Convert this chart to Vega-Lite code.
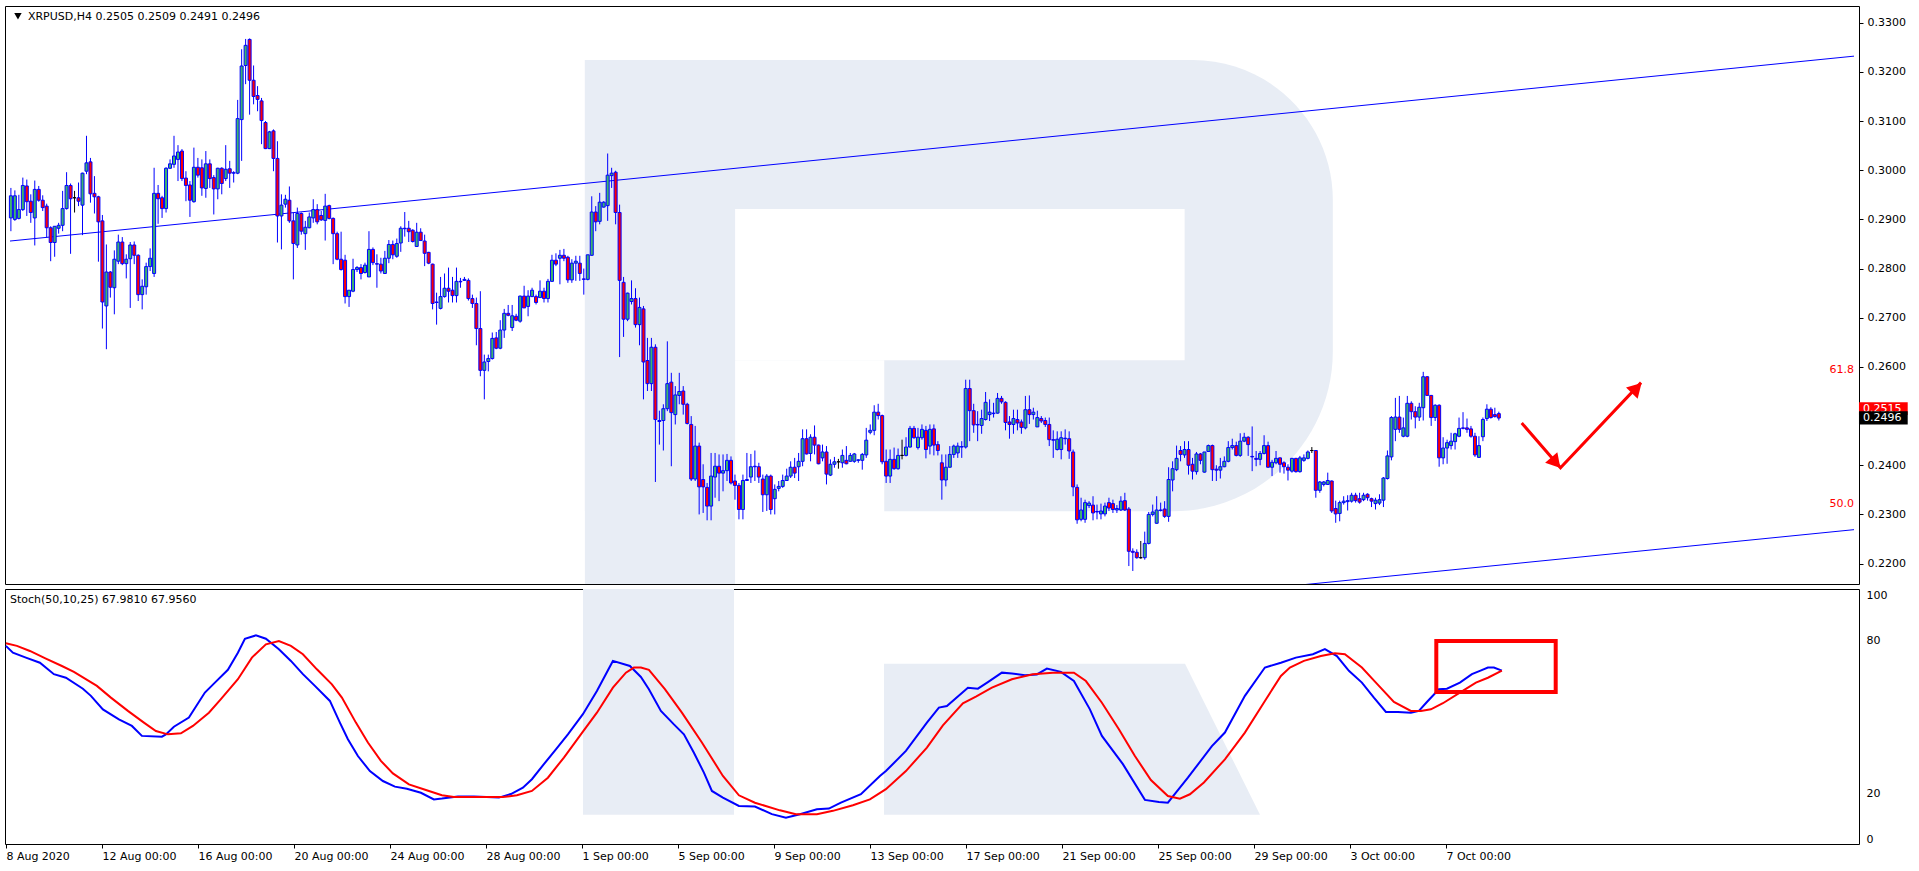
{
"$schema":"https://vega.github.io/schema/vega-lite/v6.json",
"background":"#ffffff",
"padding":{"left":4,"top":5,"right":0,"bottom":0},
"spacing":3,
"config":{"view":{"stroke":"#000000","strokeWidth":1},"font":"DejaVu Sans","axis":{"labelFont":"DejaVu Sans","labelFontSize":11,"labelColor":"#000000","tickColor":"#000000","domain":false,"grid":false,"title":null}},
"datasets":{
"candles":[
{"t":"2020-08-08T00:00Z","o":0.2903,"h":0.2964,"l":0.2876,"c":0.2948},
{"t":"2020-08-08T04:00Z","o":0.2900,"h":0.2959,"l":0.2897,"c":0.2948},
{"t":"2020-08-08T08:00Z","o":0.2902,"h":0.2950,"l":0.2900,"c":0.2920},
{"t":"2020-08-08T12:00Z","o":0.2920,"h":0.2985,"l":0.2917,"c":0.2969},
{"t":"2020-08-08T16:00Z","o":0.2968,"h":0.2981,"l":0.2907,"c":0.2936},
{"t":"2020-08-08T20:00Z","o":0.2937,"h":0.2951,"l":0.2893,"c":0.2914},
{"t":"2020-08-09T00:00Z","o":0.2903,"h":0.2979,"l":0.2847,"c":0.2961},
{"t":"2020-08-09T04:00Z","o":0.2961,"h":0.2968,"l":0.2936,"c":0.2939},
{"t":"2020-08-09T08:00Z","o":0.2939,"h":0.2949,"l":0.2917,"c":0.2924},
{"t":"2020-08-09T12:00Z","o":0.2927,"h":0.2932,"l":0.2863,"c":0.2883},
{"t":"2020-08-09T16:00Z","o":0.2883,"h":0.2886,"l":0.2815,"c":0.2853},
{"t":"2020-08-09T20:00Z","o":0.2853,"h":0.2886,"l":0.2824,"c":0.2886},
{"t":"2020-08-10T00:00Z","o":0.2882,"h":0.2893,"l":0.2871,"c":0.2888},
{"t":"2020-08-10T04:00Z","o":0.2888,"h":0.2958,"l":0.2876,"c":0.2922},
{"t":"2020-08-10T08:00Z","o":0.2922,"h":0.2996,"l":0.2920,"c":0.2969},
{"t":"2020-08-10T12:00Z","o":0.2969,"h":0.2973,"l":0.2830,"c":0.2942},
{"t":"2020-08-10T16:00Z","o":0.2944,"h":0.2958,"l":0.2914,"c":0.2944},
{"t":"2020-08-10T20:00Z","o":0.2944,"h":0.2975,"l":0.2927,"c":0.2937},
{"t":"2020-08-11T00:00Z","o":0.2929,"h":0.2995,"l":0.2868,"c":0.2994},
{"t":"2020-08-11T04:00Z","o":0.2998,"h":0.3070,"l":0.2992,"c":0.3015},
{"t":"2020-08-11T08:00Z","o":0.3017,"h":0.3025,"l":0.2934,"c":0.2952},
{"t":"2020-08-11T12:00Z","o":0.2953,"h":0.2988,"l":0.2912,"c":0.2946},
{"t":"2020-08-11T16:00Z","o":0.2946,"h":0.2948,"l":0.2814,"c":0.2895},
{"t":"2020-08-11T20:00Z","o":0.2897,"h":0.2909,"l":0.2678,"c":0.2732},
{"t":"2020-08-12T00:00Z","o":0.2724,"h":0.2849,"l":0.2636,"c":0.2793},
{"t":"2020-08-12T04:00Z","o":0.2793,"h":0.2795,"l":0.2741,"c":0.2762},
{"t":"2020-08-12T08:00Z","o":0.2761,"h":0.2837,"l":0.2707,"c":0.2819},
{"t":"2020-08-12T12:00Z","o":0.2815,"h":0.2869,"l":0.2809,"c":0.2854},
{"t":"2020-08-12T16:00Z","o":0.2854,"h":0.2864,"l":0.2807,"c":0.2810},
{"t":"2020-08-12T20:00Z","o":0.2810,"h":0.2829,"l":0.2780,"c":0.2819},
{"t":"2020-08-13T00:00Z","o":0.2820,"h":0.2854,"l":0.2720,"c":0.2848},
{"t":"2020-08-13T04:00Z","o":0.2848,"h":0.2855,"l":0.2809,"c":0.2827},
{"t":"2020-08-13T08:00Z","o":0.2827,"h":0.2829,"l":0.2734,"c":0.2747},
{"t":"2020-08-13T12:00Z","o":0.2747,"h":0.2778,"l":0.2717,"c":0.2764},
{"t":"2020-08-13T16:00Z","o":0.2763,"h":0.2812,"l":0.2747,"c":0.2804},
{"t":"2020-08-13T20:00Z","o":0.2804,"h":0.2841,"l":0.2795,"c":0.2821},
{"t":"2020-08-14T00:00Z","o":0.2790,"h":0.3005,"l":0.2783,"c":0.2953},
{"t":"2020-08-14T04:00Z","o":0.2953,"h":0.2970,"l":0.2891,"c":0.2942},
{"t":"2020-08-14T08:00Z","o":0.2944,"h":0.2948,"l":0.2903,"c":0.2922},
{"t":"2020-08-14T12:00Z","o":0.2922,"h":0.3006,"l":0.2914,"c":0.3004},
{"t":"2020-08-14T16:00Z","o":0.3004,"h":0.3022,"l":0.3003,"c":0.3013},
{"t":"2020-08-14T20:00Z","o":0.3012,"h":0.3070,"l":0.3005,"c":0.3029},
{"t":"2020-08-15T00:00Z","o":0.3022,"h":0.3051,"l":0.2978,"c":0.3037},
{"t":"2020-08-15T04:00Z","o":0.3039,"h":0.3043,"l":0.2978,"c":0.2983},
{"t":"2020-08-15T08:00Z","o":0.2984,"h":0.2998,"l":0.2937,"c":0.2969},
{"t":"2020-08-15T12:00Z","o":0.2970,"h":0.2978,"l":0.2905,"c":0.2939},
{"t":"2020-08-15T16:00Z","o":0.2936,"h":0.3046,"l":0.2934,"c":0.3006},
{"t":"2020-08-15T20:00Z","o":0.3006,"h":0.3025,"l":0.2985,"c":0.2990},
{"t":"2020-08-16T00:00Z","o":0.3005,"h":0.3022,"l":0.2948,"c":0.2964},
{"t":"2020-08-16T04:00Z","o":0.2963,"h":0.3039,"l":0.2944,"c":0.3013},
{"t":"2020-08-16T08:00Z","o":0.3013,"h":0.3022,"l":0.2964,"c":0.2983},
{"t":"2020-08-16T12:00Z","o":0.2985,"h":0.2990,"l":0.2910,"c":0.2962},
{"t":"2020-08-16T16:00Z","o":0.2962,"h":0.3005,"l":0.2941,"c":0.3004},
{"t":"2020-08-16T20:00Z","o":0.3004,"h":0.3006,"l":0.2951,"c":0.2973},
{"t":"2020-08-17T00:00Z","o":0.2983,"h":0.3051,"l":0.2978,"c":0.3002},
{"t":"2020-08-17T04:00Z","o":0.3003,"h":0.3019,"l":0.2964,"c":0.2994},
{"t":"2020-08-17T08:00Z","o":0.2994,"h":0.2998,"l":0.2975,"c":0.2995},
{"t":"2020-08-17T12:00Z","o":0.2994,"h":0.3143,"l":0.2992,"c":0.3105},
{"t":"2020-08-17T16:00Z","o":0.3103,"h":0.3246,"l":0.3019,"c":0.3212},
{"t":"2020-08-17T20:00Z","o":0.3213,"h":0.3267,"l":0.3175,"c":0.3254},
{"t":"2020-08-18T00:00Z","o":0.3266,"h":0.3268,"l":0.3113,"c":0.3183},
{"t":"2020-08-18T04:00Z","o":0.3183,"h":0.3213,"l":0.3134,"c":0.3150},
{"t":"2020-08-18T08:00Z","o":0.3152,"h":0.3171,"l":0.3120,"c":0.3144},
{"t":"2020-08-18T12:00Z","o":0.3141,"h":0.3147,"l":0.3053,"c":0.3101},
{"t":"2020-08-18T16:00Z","o":0.3097,"h":0.3100,"l":0.3043,"c":0.3044},
{"t":"2020-08-18T20:00Z","o":0.3044,"h":0.3080,"l":0.3043,"c":0.3078},
{"t":"2020-08-19T00:00Z","o":0.3080,"h":0.3083,"l":0.2998,"c":0.3024},
{"t":"2020-08-19T04:00Z","o":0.3024,"h":0.3059,"l":0.2853,"c":0.2907},
{"t":"2020-08-19T08:00Z","o":0.2907,"h":0.2951,"l":0.2839,"c":0.2929},
{"t":"2020-08-19T12:00Z","o":0.2931,"h":0.2950,"l":0.2924,"c":0.2941},
{"t":"2020-08-19T16:00Z","o":0.2939,"h":0.2967,"l":0.2893,"c":0.2897},
{"t":"2020-08-19T20:00Z","o":0.2897,"h":0.2914,"l":0.2778,"c":0.2851},
{"t":"2020-08-20T00:00Z","o":0.2848,"h":0.2924,"l":0.2842,"c":0.2912},
{"t":"2020-08-20T04:00Z","o":0.2912,"h":0.2914,"l":0.2869,"c":0.2876},
{"t":"2020-08-20T08:00Z","o":0.2871,"h":0.2897,"l":0.2838,"c":0.2884},
{"t":"2020-08-20T12:00Z","o":0.2883,"h":0.2914,"l":0.2882,"c":0.2905},
{"t":"2020-08-20T16:00Z","o":0.2903,"h":0.2941,"l":0.2893,"c":0.2920},
{"t":"2020-08-20T20:00Z","o":0.2920,"h":0.2931,"l":0.2890,"c":0.2895},
{"t":"2020-08-21T00:00Z","o":0.2908,"h":0.2917,"l":0.2897,"c":0.2899},
{"t":"2020-08-21T04:00Z","o":0.2898,"h":0.2952,"l":0.2857,"c":0.2927},
{"t":"2020-08-21T08:00Z","o":0.2928,"h":0.2930,"l":0.2900,"c":0.2902},
{"t":"2020-08-21T12:00Z","o":0.2902,"h":0.2904,"l":0.2809,"c":0.2871},
{"t":"2020-08-21T16:00Z","o":0.2871,"h":0.2875,"l":0.2817,"c":0.2819},
{"t":"2020-08-21T20:00Z","o":0.2819,"h":0.2875,"l":0.2796,"c":0.2798},
{"t":"2020-08-22T00:00Z","o":0.2817,"h":0.2828,"l":0.2729,"c":0.2743},
{"t":"2020-08-22T04:00Z","o":0.2743,"h":0.2756,"l":0.2722,"c":0.2756},
{"t":"2020-08-22T08:00Z","o":0.2754,"h":0.2820,"l":0.2752,"c":0.2798},
{"t":"2020-08-22T12:00Z","o":0.2798,"h":0.2805,"l":0.2793,"c":0.2802},
{"t":"2020-08-22T16:00Z","o":0.2802,"h":0.2809,"l":0.2778,"c":0.2790},
{"t":"2020-08-22T20:00Z","o":0.2792,"h":0.2812,"l":0.2790,"c":0.2807},
{"t":"2020-08-23T00:00Z","o":0.2783,"h":0.2876,"l":0.2783,"c":0.2839},
{"t":"2020-08-23T04:00Z","o":0.2839,"h":0.2843,"l":0.2807,"c":0.2812},
{"t":"2020-08-23T08:00Z","o":0.2810,"h":0.2829,"l":0.2761,"c":0.2809},
{"t":"2020-08-23T12:00Z","o":0.2809,"h":0.2822,"l":0.2790,"c":0.2795},
{"t":"2020-08-23T16:00Z","o":0.2790,"h":0.2836,"l":0.2790,"c":0.2821},
{"t":"2020-08-23T20:00Z","o":0.2821,"h":0.2858,"l":0.2811,"c":0.2849},
{"t":"2020-08-24T00:00Z","o":0.2849,"h":0.2857,"l":0.2819,"c":0.2828},
{"t":"2020-08-24T04:00Z","o":0.2825,"h":0.2861,"l":0.2822,"c":0.2851},
{"t":"2020-08-24T08:00Z","o":0.2852,"h":0.2886,"l":0.2834,"c":0.2882},
{"t":"2020-08-24T12:00Z","o":0.2881,"h":0.2915,"l":0.2865,"c":0.2882},
{"t":"2020-08-24T16:00Z","o":0.2882,"h":0.2897,"l":0.2854,"c":0.2875},
{"t":"2020-08-24T20:00Z","o":0.2878,"h":0.2880,"l":0.2853,"c":0.2855},
{"t":"2020-08-25T00:00Z","o":0.2845,"h":0.2893,"l":0.2844,"c":0.2874},
{"t":"2020-08-25T04:00Z","o":0.2874,"h":0.2882,"l":0.2856,"c":0.2857},
{"t":"2020-08-25T08:00Z","o":0.2856,"h":0.2869,"l":0.2805,"c":0.2831},
{"t":"2020-08-25T12:00Z","o":0.2833,"h":0.2834,"l":0.2809,"c":0.2811},
{"t":"2020-08-25T16:00Z","o":0.2809,"h":0.2810,"l":0.2717,"c":0.2729},
{"t":"2020-08-25T20:00Z","o":0.2732,"h":0.2751,"l":0.2686,"c":0.2731},
{"t":"2020-08-26T00:00Z","o":0.2719,"h":0.2783,"l":0.2717,"c":0.2743},
{"t":"2020-08-26T04:00Z","o":0.2743,"h":0.2790,"l":0.2741,"c":0.2760},
{"t":"2020-08-26T08:00Z","o":0.2760,"h":0.2802,"l":0.2731,"c":0.2754},
{"t":"2020-08-26T12:00Z","o":0.2756,"h":0.2783,"l":0.2731,"c":0.2745},
{"t":"2020-08-26T16:00Z","o":0.2745,"h":0.2802,"l":0.2731,"c":0.2774},
{"t":"2020-08-26T20:00Z","o":0.2774,"h":0.2781,"l":0.2761,"c":0.2773},
{"t":"2020-08-27T00:00Z","o":0.2776,"h":0.2783,"l":0.2775,"c":0.2778},
{"t":"2020-08-27T04:00Z","o":0.2776,"h":0.2780,"l":0.2735,"c":0.2739},
{"t":"2020-08-27T08:00Z","o":0.2739,"h":0.2747,"l":0.2720,"c":0.2729},
{"t":"2020-08-27T12:00Z","o":0.2729,"h":0.2741,"l":0.2644,"c":0.2678},
{"t":"2020-08-27T16:00Z","o":0.2678,"h":0.2754,"l":0.2581,"c":0.2593},
{"t":"2020-08-27T20:00Z","o":0.2593,"h":0.2625,"l":0.2534,"c":0.2610},
{"t":"2020-08-28T00:00Z","o":0.2611,"h":0.2625,"l":0.2591,"c":0.2617},
{"t":"2020-08-28T04:00Z","o":0.2617,"h":0.2670,"l":0.2615,"c":0.2658},
{"t":"2020-08-28T08:00Z","o":0.2659,"h":0.2671,"l":0.2636,"c":0.2638},
{"t":"2020-08-28T12:00Z","o":0.2638,"h":0.2695,"l":0.2636,"c":0.2675},
{"t":"2020-08-28T16:00Z","o":0.2675,"h":0.2718,"l":0.2659,"c":0.2709},
{"t":"2020-08-28T20:00Z","o":0.2709,"h":0.2726,"l":0.2703,"c":0.2705},
{"t":"2020-08-29T00:00Z","o":0.2680,"h":0.2726,"l":0.2673,"c":0.2704},
{"t":"2020-08-29T04:00Z","o":0.2703,"h":0.2708,"l":0.2693,"c":0.2695},
{"t":"2020-08-29T08:00Z","o":0.2693,"h":0.2745,"l":0.2690,"c":0.2744},
{"t":"2020-08-29T12:00Z","o":0.2744,"h":0.2765,"l":0.2720,"c":0.2720},
{"t":"2020-08-29T16:00Z","o":0.2723,"h":0.2756,"l":0.2703,"c":0.2744},
{"t":"2020-08-29T20:00Z","o":0.2743,"h":0.2761,"l":0.2742,"c":0.2756},
{"t":"2020-08-30T00:00Z","o":0.2743,"h":0.2747,"l":0.2727,"c":0.2731},
{"t":"2020-08-30T04:00Z","o":0.2741,"h":0.2776,"l":0.2741,"c":0.2754},
{"t":"2020-08-30T08:00Z","o":0.2754,"h":0.2761,"l":0.2731,"c":0.2739},
{"t":"2020-08-30T12:00Z","o":0.2739,"h":0.2779,"l":0.2731,"c":0.2774},
{"t":"2020-08-30T16:00Z","o":0.2774,"h":0.2828,"l":0.2773,"c":0.2817},
{"t":"2020-08-30T20:00Z","o":0.2817,"h":0.2831,"l":0.2805,"c":0.2809},
{"t":"2020-08-31T00:00Z","o":0.2821,"h":0.2838,"l":0.2768,"c":0.2827},
{"t":"2020-08-31T04:00Z","o":0.2827,"h":0.2840,"l":0.2815,"c":0.2821},
{"t":"2020-08-31T08:00Z","o":0.2823,"h":0.2826,"l":0.2771,"c":0.2777},
{"t":"2020-08-31T12:00Z","o":0.2777,"h":0.2819,"l":0.2771,"c":0.2811},
{"t":"2020-08-31T16:00Z","o":0.2811,"h":0.2826,"l":0.2775,"c":0.2815},
{"t":"2020-08-31T20:00Z","o":0.2811,"h":0.2826,"l":0.2775,"c":0.2790},
{"t":"2020-09-01T00:00Z","o":0.2779,"h":0.2800,"l":0.2747,"c":0.2778},
{"t":"2020-09-01T04:00Z","o":0.2778,"h":0.2828,"l":0.2776,"c":0.2828},
{"t":"2020-09-01T08:00Z","o":0.2827,"h":0.2947,"l":0.2826,"c":0.2915},
{"t":"2020-09-01T12:00Z","o":0.2915,"h":0.2927,"l":0.2876,"c":0.2895},
{"t":"2020-09-01T16:00Z","o":0.2896,"h":0.2954,"l":0.2890,"c":0.2935},
{"t":"2020-09-01T20:00Z","o":0.2925,"h":0.2937,"l":0.2924,"c":0.2935},
{"t":"2020-09-02T00:00Z","o":0.2928,"h":0.3034,"l":0.2897,"c":0.2990},
{"t":"2020-09-02T04:00Z","o":0.2989,"h":0.3005,"l":0.2964,"c":0.2994},
{"t":"2020-09-02T08:00Z","o":0.2996,"h":0.2999,"l":0.2890,"c":0.2914},
{"t":"2020-09-02T12:00Z","o":0.2914,"h":0.2930,"l":0.2620,"c":0.2776},
{"t":"2020-09-02T16:00Z","o":0.2772,"h":0.2783,"l":0.2661,"c":0.2697},
{"t":"2020-09-02T20:00Z","o":0.2697,"h":0.2751,"l":0.2693,"c":0.2750},
{"t":"2020-09-03T00:00Z","o":0.2733,"h":0.2776,"l":0.2727,"c":0.2739},
{"t":"2020-09-03T04:00Z","o":0.2739,"h":0.2760,"l":0.2680,"c":0.2686},
{"t":"2020-09-03T08:00Z","o":0.2686,"h":0.2741,"l":0.2644,"c":0.2721},
{"t":"2020-09-03T12:00Z","o":0.2718,"h":0.2724,"l":0.2534,"c":0.2610},
{"t":"2020-09-03T16:00Z","o":0.2613,"h":0.2659,"l":0.2551,"c":0.2566},
{"t":"2020-09-03T20:00Z","o":0.2566,"h":0.2659,"l":0.2551,"c":0.2640},
{"t":"2020-09-04T00:00Z","o":0.2640,"h":0.2646,"l":0.2366,"c":0.2493},
{"t":"2020-09-04T04:00Z","o":0.2491,"h":0.2511,"l":0.2442,"c":0.2489},
{"t":"2020-09-04T08:00Z","o":0.2491,"h":0.2524,"l":0.2430,"c":0.2515},
{"t":"2020-09-04T12:00Z","o":0.2515,"h":0.2652,"l":0.2510,"c":0.2566},
{"t":"2020-09-04T16:00Z","o":0.2569,"h":0.2588,"l":0.2398,"c":0.2507},
{"t":"2020-09-04T20:00Z","o":0.2503,"h":0.2561,"l":0.2483,"c":0.2543},
{"t":"2020-09-05T00:00Z","o":0.2542,"h":0.2588,"l":0.2524,"c":0.2550},
{"t":"2020-09-05T04:00Z","o":0.2551,"h":0.2561,"l":0.2503,"c":0.2524},
{"t":"2020-09-05T08:00Z","o":0.2524,"h":0.2527,"l":0.2483,"c":0.2485},
{"t":"2020-09-05T12:00Z","o":0.2483,"h":0.2500,"l":0.2368,"c":0.2372},
{"t":"2020-09-05T16:00Z","o":0.2372,"h":0.2480,"l":0.2368,"c":0.2439},
{"t":"2020-09-05T20:00Z","o":0.2439,"h":0.2446,"l":0.2300,"c":0.2356},
{"t":"2020-09-06T00:00Z","o":0.2371,"h":0.2402,"l":0.2303,"c":0.2356},
{"t":"2020-09-06T04:00Z","o":0.2355,"h":0.2364,"l":0.2288,"c":0.2317},
{"t":"2020-09-06T08:00Z","o":0.2317,"h":0.2425,"l":0.2288,"c":0.2378},
{"t":"2020-09-06T12:00Z","o":0.2376,"h":0.2425,"l":0.2334,"c":0.2398},
{"t":"2020-09-06T16:00Z","o":0.2398,"h":0.2422,"l":0.2327,"c":0.2384},
{"t":"2020-09-06T20:00Z","o":0.2384,"h":0.2422,"l":0.2347,"c":0.2389},
{"t":"2020-09-07T00:00Z","o":0.2389,"h":0.2423,"l":0.2368,"c":0.2410},
{"t":"2020-09-07T04:00Z","o":0.2410,"h":0.2418,"l":0.2361,"c":0.2364},
{"t":"2020-09-07T08:00Z","o":0.2368,"h":0.2381,"l":0.2330,"c":0.2359},
{"t":"2020-09-07T12:00Z","o":0.2359,"h":0.2364,"l":0.2290,"c":0.2310},
{"t":"2020-09-07T16:00Z","o":0.2310,"h":0.2381,"l":0.2290,"c":0.2369},
{"t":"2020-09-07T20:00Z","o":0.2369,"h":0.2425,"l":0.2368,"c":0.2371},
{"t":"2020-09-08T00:00Z","o":0.2376,"h":0.2423,"l":0.2364,"c":0.2397},
{"t":"2020-09-08T04:00Z","o":0.2397,"h":0.2430,"l":0.2368,"c":0.2398},
{"t":"2020-09-08T08:00Z","o":0.2397,"h":0.2405,"l":0.2364,"c":0.2376},
{"t":"2020-09-08T12:00Z","o":0.2372,"h":0.2381,"l":0.2305,"c":0.2340},
{"t":"2020-09-08T16:00Z","o":0.2340,"h":0.2382,"l":0.2307,"c":0.2378},
{"t":"2020-09-08T20:00Z","o":0.2378,"h":0.2381,"l":0.2300,"c":0.2310},
{"t":"2020-09-09T00:00Z","o":0.2332,"h":0.2361,"l":0.2300,"c":0.2351},
{"t":"2020-09-09T04:00Z","o":0.2353,"h":0.2368,"l":0.2347,"c":0.2357},
{"t":"2020-09-09T08:00Z","o":0.2357,"h":0.2381,"l":0.2354,"c":0.2369},
{"t":"2020-09-09T12:00Z","o":0.2369,"h":0.2393,"l":0.2368,"c":0.2378},
{"t":"2020-09-09T16:00Z","o":0.2378,"h":0.2408,"l":0.2374,"c":0.2396},
{"t":"2020-09-09T20:00Z","o":0.2396,"h":0.2415,"l":0.2374,"c":0.2384},
{"t":"2020-09-10T00:00Z","o":0.2397,"h":0.2425,"l":0.2368,"c":0.2408},
{"t":"2020-09-10T04:00Z","o":0.2408,"h":0.2473,"l":0.2398,"c":0.2454},
{"t":"2020-09-10T08:00Z","o":0.2454,"h":0.2473,"l":0.2422,"c":0.2423},
{"t":"2020-09-10T12:00Z","o":0.2424,"h":0.2463,"l":0.2408,"c":0.2457},
{"t":"2020-09-10T16:00Z","o":0.2457,"h":0.2481,"l":0.2422,"c":0.2441},
{"t":"2020-09-10T20:00Z","o":0.2441,"h":0.2442,"l":0.2402,"c":0.2403},
{"t":"2020-09-11T00:00Z","o":0.2415,"h":0.2442,"l":0.2408,"c":0.2427},
{"t":"2020-09-11T04:00Z","o":0.2427,"h":0.2439,"l":0.2361,"c":0.2382},
{"t":"2020-09-11T08:00Z","o":0.2380,"h":0.2412,"l":0.2378,"c":0.2402},
{"t":"2020-09-11T12:00Z","o":0.2402,"h":0.2417,"l":0.2395,"c":0.2407},
{"t":"2020-09-11T16:00Z","o":0.2407,"h":0.2413,"l":0.2393,"c":0.2407},
{"t":"2020-09-11T20:00Z","o":0.2405,"h":0.2432,"l":0.2395,"c":0.2420},
{"t":"2020-09-12T00:00Z","o":0.2410,"h":0.2439,"l":0.2402,"c":0.2403},
{"t":"2020-09-12T04:00Z","o":0.2408,"h":0.2425,"l":0.2407,"c":0.2420},
{"t":"2020-09-12T08:00Z","o":0.2408,"h":0.2425,"l":0.2405,"c":0.2423},
{"t":"2020-09-12T12:00Z","o":0.2410,"h":0.2412,"l":0.2405,"c":0.2411},
{"t":"2020-09-12T16:00Z","o":0.2410,"h":0.2425,"l":0.2391,"c":0.2422},
{"t":"2020-09-12T20:00Z","o":0.2421,"h":0.2476,"l":0.2415,"c":0.2451},
{"t":"2020-09-13T00:00Z","o":0.2467,"h":0.2483,"l":0.2463,"c":0.2471},
{"t":"2020-09-13T04:00Z","o":0.2471,"h":0.2522,"l":0.2461,"c":0.2508},
{"t":"2020-09-13T08:00Z","o":0.2508,"h":0.2525,"l":0.2493,"c":0.2501},
{"t":"2020-09-13T12:00Z","o":0.2501,"h":0.2503,"l":0.2402,"c":0.2407},
{"t":"2020-09-13T16:00Z","o":0.2408,"h":0.2432,"l":0.2364,"c":0.2378},
{"t":"2020-09-13T20:00Z","o":0.2378,"h":0.2432,"l":0.2364,"c":0.2412},
{"t":"2020-09-14T00:00Z","o":0.2412,"h":0.2436,"l":0.2391,"c":0.2393},
{"t":"2020-09-14T04:00Z","o":0.2393,"h":0.2434,"l":0.2391,"c":0.2420},
{"t":"2020-09-14T08:00Z","o":0.2420,"h":0.2452,"l":0.2412,"c":0.2420},
{"t":"2020-09-14T12:00Z","o":0.2420,"h":0.2457,"l":0.2418,"c":0.2437},
{"t":"2020-09-14T16:00Z","o":0.2437,"h":0.2480,"l":0.2436,"c":0.2475},
{"t":"2020-09-14T20:00Z","o":0.2475,"h":0.2480,"l":0.2454,"c":0.2456},
{"t":"2020-09-15T00:00Z","o":0.2436,"h":0.2476,"l":0.2432,"c":0.2457},
{"t":"2020-09-15T04:00Z","o":0.2456,"h":0.2483,"l":0.2452,"c":0.2473},
{"t":"2020-09-15T08:00Z","o":0.2471,"h":0.2480,"l":0.2414,"c":0.2432},
{"t":"2020-09-15T12:00Z","o":0.2439,"h":0.2483,"l":0.2422,"c":0.2473},
{"t":"2020-09-15T16:00Z","o":0.2474,"h":0.2483,"l":0.2420,"c":0.2441},
{"t":"2020-09-15T20:00Z","o":0.2442,"h":0.2449,"l":0.2420,"c":0.2430},
{"t":"2020-09-16T00:00Z","o":0.2405,"h":0.2422,"l":0.2330,"c":0.2370},
{"t":"2020-09-16T04:00Z","o":0.2370,"h":0.2422,"l":0.2357,"c":0.2396},
{"t":"2020-09-16T08:00Z","o":0.2396,"h":0.2439,"l":0.2395,"c":0.2422},
{"t":"2020-09-16T12:00Z","o":0.2422,"h":0.2442,"l":0.2415,"c":0.2439},
{"t":"2020-09-16T16:00Z","o":0.2425,"h":0.2446,"l":0.2415,"c":0.2439},
{"t":"2020-09-16T20:00Z","o":0.2437,"h":0.2449,"l":0.2415,"c":0.2438},
{"t":"2020-09-17T00:00Z","o":0.2437,"h":0.2574,"l":0.2434,"c":0.2556},
{"t":"2020-09-17T04:00Z","o":0.2556,"h":0.2574,"l":0.2449,"c":0.2511},
{"t":"2020-09-17T08:00Z","o":0.2511,"h":0.2525,"l":0.2466,"c":0.2482},
{"t":"2020-09-17T12:00Z","o":0.2483,"h":0.2510,"l":0.2449,"c":0.2482},
{"t":"2020-09-17T16:00Z","o":0.2481,"h":0.2513,"l":0.2464,"c":0.2495},
{"t":"2020-09-17T20:00Z","o":0.2493,"h":0.2549,"l":0.2491,"c":0.2528},
{"t":"2020-09-18T00:00Z","o":0.2503,"h":0.2534,"l":0.2490,"c":0.2508},
{"t":"2020-09-18T04:00Z","o":0.2505,"h":0.2527,"l":0.2497,"c":0.2506},
{"t":"2020-09-18T08:00Z","o":0.2506,"h":0.2547,"l":0.2505,"c":0.2536},
{"t":"2020-09-18T12:00Z","o":0.2536,"h":0.2541,"l":0.2525,"c":0.2529},
{"t":"2020-09-18T16:00Z","o":0.2528,"h":0.2530,"l":0.2471,"c":0.2487},
{"t":"2020-09-18T20:00Z","o":0.2488,"h":0.2500,"l":0.2454,"c":0.2483},
{"t":"2020-09-19T00:00Z","o":0.2483,"h":0.2513,"l":0.2464,"c":0.2495},
{"t":"2020-09-19T04:00Z","o":0.2493,"h":0.2513,"l":0.2471,"c":0.2486},
{"t":"2020-09-19T08:00Z","o":0.2488,"h":0.2493,"l":0.2464,"c":0.2477},
{"t":"2020-09-19T12:00Z","o":0.2476,"h":0.2541,"l":0.2473,"c":0.2513},
{"t":"2020-09-19T16:00Z","o":0.2513,"h":0.2542,"l":0.2484,"c":0.2503},
{"t":"2020-09-19T20:00Z","o":0.2503,"h":0.2517,"l":0.2493,"c":0.2508},
{"t":"2020-09-20T00:00Z","o":0.2478,"h":0.2511,"l":0.2478,"c":0.2497},
{"t":"2020-09-20T04:00Z","o":0.2495,"h":0.2500,"l":0.2486,"c":0.2490},
{"t":"2020-09-20T08:00Z","o":0.2491,"h":0.2497,"l":0.2478,"c":0.2483},
{"t":"2020-09-20T12:00Z","o":0.2483,"h":0.2497,"l":0.2439,"c":0.2452},
{"t":"2020-09-20T16:00Z","o":0.2452,"h":0.2471,"l":0.2415,"c":0.2451},
{"t":"2020-09-20T20:00Z","o":0.2432,"h":0.2469,"l":0.2430,"c":0.2453},
{"t":"2020-09-21T00:00Z","o":0.2432,"h":0.2469,"l":0.2412,"c":0.2456},
{"t":"2020-09-21T04:00Z","o":0.2454,"h":0.2473,"l":0.2442,"c":0.2455},
{"t":"2020-09-21T08:00Z","o":0.2454,"h":0.2469,"l":0.2413,"c":0.2429},
{"t":"2020-09-21T12:00Z","o":0.2427,"h":0.2432,"l":0.2337,"c":0.2356},
{"t":"2020-09-21T16:00Z","o":0.2355,"h":0.2361,"l":0.2281,"c":0.2289},
{"t":"2020-09-21T20:00Z","o":0.2290,"h":0.2334,"l":0.2286,"c":0.2309},
{"t":"2020-09-22T00:00Z","o":0.2290,"h":0.2330,"l":0.2283,"c":0.2324},
{"t":"2020-09-22T04:00Z","o":0.2318,"h":0.2327,"l":0.2313,"c":0.2323},
{"t":"2020-09-22T08:00Z","o":0.2319,"h":0.2337,"l":0.2288,"c":0.2303},
{"t":"2020-09-22T12:00Z","o":0.2306,"h":0.2320,"l":0.2290,"c":0.2305},
{"t":"2020-09-22T16:00Z","o":0.2301,"h":0.2322,"l":0.2290,"c":0.2307},
{"t":"2020-09-22T20:00Z","o":0.2301,"h":0.2324,"l":0.2296,"c":0.2317},
{"t":"2020-09-23T00:00Z","o":0.2324,"h":0.2334,"l":0.2307,"c":0.2313},
{"t":"2020-09-23T04:00Z","o":0.2322,"h":0.2330,"l":0.2303,"c":0.2310},
{"t":"2020-09-23T08:00Z","o":0.2309,"h":0.2319,"l":0.2303,"c":0.2312},
{"t":"2020-09-23T12:00Z","o":0.2309,"h":0.2337,"l":0.2307,"c":0.2327},
{"t":"2020-09-23T16:00Z","o":0.2328,"h":0.2344,"l":0.2307,"c":0.2309},
{"t":"2020-09-23T20:00Z","o":0.2311,"h":0.2315,"l":0.2195,"c":0.2225},
{"t":"2020-09-24T00:00Z","o":0.2225,"h":0.2231,"l":0.2185,"c":0.2223},
{"t":"2020-09-24T04:00Z","o":0.2223,"h":0.2229,"l":0.2210,"c":0.2212},
{"t":"2020-09-24T08:00Z","o":0.2212,"h":0.2246,"l":0.2210,"c":0.2212},
{"t":"2020-09-24T12:00Z","o":0.2212,"h":0.2265,"l":0.2208,"c":0.2241},
{"t":"2020-09-24T16:00Z","o":0.2241,"h":0.2305,"l":0.2239,"c":0.2300},
{"t":"2020-09-24T20:00Z","o":0.2300,"h":0.2320,"l":0.2296,"c":0.2305},
{"t":"2020-09-25T00:00Z","o":0.2282,"h":0.2337,"l":0.2281,"c":0.2309},
{"t":"2020-09-25T04:00Z","o":0.2308,"h":0.2324,"l":0.2306,"c":0.2309},
{"t":"2020-09-25T08:00Z","o":0.2311,"h":0.2327,"l":0.2293,"c":0.2296},
{"t":"2020-09-25T12:00Z","o":0.2296,"h":0.2396,"l":0.2285,"c":0.2371},
{"t":"2020-09-25T16:00Z","o":0.2370,"h":0.2408,"l":0.2347,"c":0.2393},
{"t":"2020-09-25T20:00Z","o":0.2391,"h":0.2440,"l":0.2388,"c":0.2414},
{"t":"2020-09-26T00:00Z","o":0.2430,"h":0.2439,"l":0.2408,"c":0.2422},
{"t":"2020-09-26T04:00Z","o":0.2421,"h":0.2449,"l":0.2415,"c":0.2432},
{"t":"2020-09-26T08:00Z","o":0.2432,"h":0.2449,"l":0.2381,"c":0.2400},
{"t":"2020-09-26T12:00Z","o":0.2402,"h":0.2415,"l":0.2371,"c":0.2388},
{"t":"2020-09-26T16:00Z","o":0.2387,"h":0.2427,"l":0.2381,"c":0.2423},
{"t":"2020-09-26T20:00Z","o":0.2423,"h":0.2425,"l":0.2402,"c":0.2410},
{"t":"2020-09-27T00:00Z","o":0.2386,"h":0.2427,"l":0.2385,"c":0.2427},
{"t":"2020-09-27T04:00Z","o":0.2428,"h":0.2442,"l":0.2427,"c":0.2440},
{"t":"2020-09-27T08:00Z","o":0.2440,"h":0.2442,"l":0.2368,"c":0.2391},
{"t":"2020-09-27T12:00Z","o":0.2392,"h":0.2400,"l":0.2368,"c":0.2390},
{"t":"2020-09-27T16:00Z","o":0.2390,"h":0.2415,"l":0.2373,"c":0.2397},
{"t":"2020-09-27T20:00Z","o":0.2397,"h":0.2418,"l":0.2396,"c":0.2408},
{"t":"2020-09-28T00:00Z","o":0.2408,"h":0.2449,"l":0.2406,"c":0.2436},
{"t":"2020-09-28T04:00Z","o":0.2436,"h":0.2454,"l":0.2432,"c":0.2440},
{"t":"2020-09-28T08:00Z","o":0.2440,"h":0.2448,"l":0.2418,"c":0.2420},
{"t":"2020-09-28T12:00Z","o":0.2420,"h":0.2465,"l":0.2417,"c":0.2449},
{"t":"2020-09-28T16:00Z","o":0.2449,"h":0.2466,"l":0.2447,"c":0.2457},
{"t":"2020-09-28T20:00Z","o":0.2457,"h":0.2459,"l":0.2419,"c":0.2442},
{"t":"2020-09-29T00:00Z","o":0.2418,"h":0.2479,"l":0.2388,"c":0.2417},
{"t":"2020-09-29T04:00Z","o":0.2414,"h":0.2429,"l":0.2398,"c":0.2412},
{"t":"2020-09-29T08:00Z","o":0.2412,"h":0.2429,"l":0.2400,"c":0.2424},
{"t":"2020-09-29T12:00Z","o":0.2424,"h":0.2461,"l":0.2422,"c":0.2440},
{"t":"2020-09-29T16:00Z","o":0.2440,"h":0.2448,"l":0.2395,"c":0.2396},
{"t":"2020-09-29T20:00Z","o":0.2396,"h":0.2411,"l":0.2378,"c":0.2406},
{"t":"2020-09-30T00:00Z","o":0.2405,"h":0.2429,"l":0.2402,"c":0.2414},
{"t":"2020-09-30T04:00Z","o":0.2415,"h":0.2416,"l":0.2385,"c":0.2402},
{"t":"2020-09-30T08:00Z","o":0.2405,"h":0.2408,"l":0.2383,"c":0.2397},
{"t":"2020-09-30T12:00Z","o":0.2396,"h":0.2402,"l":0.2369,"c":0.2390},
{"t":"2020-09-30T16:00Z","o":0.2388,"h":0.2415,"l":0.2385,"c":0.2414},
{"t":"2020-09-30T20:00Z","o":0.2414,"h":0.2415,"l":0.2385,"c":0.2387},
{"t":"2020-10-01T00:00Z","o":0.2387,"h":0.2419,"l":0.2385,"c":0.2415},
{"t":"2020-10-01T04:00Z","o":0.2410,"h":0.2422,"l":0.2407,"c":0.2415},
{"t":"2020-10-01T08:00Z","o":0.2414,"h":0.2430,"l":0.2412,"c":0.2427},
{"t":"2020-10-01T12:00Z","o":0.2430,"h":0.2437,"l":0.2425,"c":0.2430},
{"t":"2020-10-01T16:00Z","o":0.2430,"h":0.2431,"l":0.2334,"c":0.2349},
{"t":"2020-10-01T20:00Z","o":0.2349,"h":0.2368,"l":0.2344,"c":0.2366},
{"t":"2020-10-02T00:00Z","o":0.2361,"h":0.2368,"l":0.2357,"c":0.2366},
{"t":"2020-10-02T04:00Z","o":0.2361,"h":0.2385,"l":0.2360,"c":0.2369},
{"t":"2020-10-02T08:00Z","o":0.2368,"h":0.2369,"l":0.2303,"c":0.2307},
{"t":"2020-10-02T12:00Z","o":0.2312,"h":0.2328,"l":0.2283,"c":0.2301},
{"t":"2020-10-02T16:00Z","o":0.2302,"h":0.2328,"l":0.2286,"c":0.2324},
{"t":"2020-10-02T20:00Z","o":0.2324,"h":0.2337,"l":0.2320,"c":0.2327},
{"t":"2020-10-03T00:00Z","o":0.2326,"h":0.2339,"l":0.2308,"c":0.2328},
{"t":"2020-10-03T04:00Z","o":0.2327,"h":0.2344,"l":0.2324,"c":0.2339},
{"t":"2020-10-03T08:00Z","o":0.2339,"h":0.2344,"l":0.2324,"c":0.2328},
{"t":"2020-10-03T12:00Z","o":0.2332,"h":0.2344,"l":0.2322,"c":0.2325},
{"t":"2020-10-03T16:00Z","o":0.2330,"h":0.2344,"l":0.2327,"c":0.2339},
{"t":"2020-10-03T20:00Z","o":0.2341,"h":0.2343,"l":0.2328,"c":0.2334},
{"t":"2020-10-04T00:00Z","o":0.2332,"h":0.2334,"l":0.2315,"c":0.2327},
{"t":"2020-10-04T04:00Z","o":0.2322,"h":0.2334,"l":0.2310,"c":0.2329},
{"t":"2020-10-04T08:00Z","o":0.2323,"h":0.2341,"l":0.2319,"c":0.2330},
{"t":"2020-10-04T12:00Z","o":0.2329,"h":0.2376,"l":0.2315,"c":0.2374},
{"t":"2020-10-04T16:00Z","o":0.2373,"h":0.2430,"l":0.2371,"c":0.2419},
{"t":"2020-10-04T20:00Z","o":0.2417,"h":0.2500,"l":0.2410,"c":0.2497},
{"t":"2020-10-05T00:00Z","o":0.2473,"h":0.2537,"l":0.2449,"c":0.2498},
{"t":"2020-10-05T04:00Z","o":0.2498,"h":0.2541,"l":0.2466,"c":0.2473},
{"t":"2020-10-05T08:00Z","o":0.2459,"h":0.2497,"l":0.2457,"c":0.2476},
{"t":"2020-10-05T12:00Z","o":0.2459,"h":0.2541,"l":0.2457,"c":0.2526},
{"t":"2020-10-05T16:00Z","o":0.2526,"h":0.2530,"l":0.2493,"c":0.2509},
{"t":"2020-10-05T20:00Z","o":0.2509,"h":0.2520,"l":0.2475,"c":0.2498},
{"t":"2020-10-06T00:00Z","o":0.2498,"h":0.2527,"l":0.2490,"c":0.2518},
{"t":"2020-10-06T04:00Z","o":0.2517,"h":0.2590,"l":0.2491,"c":0.2580},
{"t":"2020-10-06T08:00Z","o":0.2580,"h":0.2581,"l":0.2542,"c":0.2542},
{"t":"2020-10-06T12:00Z","o":0.2542,"h":0.2543,"l":0.2480,"c":0.2497},
{"t":"2020-10-06T16:00Z","o":0.2497,"h":0.2524,"l":0.2490,"c":0.2522},
{"t":"2020-10-06T20:00Z","o":0.2522,"h":0.2524,"l":0.2397,"c":0.2415},
{"t":"2020-10-07T00:00Z","o":0.2415,"h":0.2457,"l":0.2402,"c":0.2435},
{"t":"2020-10-07T04:00Z","o":0.2435,"h":0.2452,"l":0.2403,"c":0.2446},
{"t":"2020-10-07T08:00Z","o":0.2440,"h":0.2466,"l":0.2432,"c":0.2449},
{"t":"2020-10-07T12:00Z","o":0.2448,"h":0.2466,"l":0.2432,"c":0.2464},
{"t":"2020-10-07T16:00Z","o":0.2459,"h":0.2497,"l":0.2457,"c":0.2475},
{"t":"2020-10-07T20:00Z","o":0.2476,"h":0.2508,"l":0.2473,"c":0.2475},
{"t":"2020-10-08T00:00Z","o":0.2476,"h":0.2495,"l":0.2466,"c":0.2473},
{"t":"2020-10-08T04:00Z","o":0.2474,"h":0.2480,"l":0.2456,"c":0.2459},
{"t":"2020-10-08T08:00Z","o":0.2459,"h":0.2466,"l":0.2417,"c":0.2421},
{"t":"2020-10-08T12:00Z","o":0.2416,"h":0.2459,"l":0.2415,"c":0.2440},
{"t":"2020-10-08T16:00Z","o":0.2458,"h":0.2497,"l":0.2449,"c":0.2493},
{"t":"2020-10-08T20:00Z","o":0.2495,"h":0.2524,"l":0.2490,"c":0.2514},
{"t":"2020-10-09T00:00Z","o":0.2514,"h":0.2518,"l":0.2495,"c":0.2497},
{"t":"2020-10-09T04:00Z","o":0.2503,"h":0.2517,"l":0.2497,"c":0.2499},
{"t":"2020-10-09T08:00Z","o":0.2505,"h":0.2509,"l":0.2491,"c":0.2496}
],
"stochK":[
{"t":"2020-08-08T00:00Z","v":77.7},{"t":"2020-08-08T07:00Z","v":75.0},{"t":"2020-08-08T20:00Z","v":73.1},{"t":"2020-08-09T10:00Z","v":71.1},{"t":"2020-08-10T00:00Z","v":66.6},{"t":"2020-08-10T12:00Z","v":65.2},{"t":"2020-08-11T05:00Z","v":60.9},{"t":"2020-08-11T13:00Z","v":58.1},{"t":"2020-08-12T01:00Z","v":52.8},{"t":"2020-08-12T17:00Z","v":48.9},{"t":"2020-08-13T06:00Z","v":46.3},{"t":"2020-08-13T16:00Z","v":42.4},{"t":"2020-08-14T12:00Z","v":42.1},{"t":"2020-08-14T16:00Z","v":43.0},{"t":"2020-08-15T00:00Z","v":46.0},{"t":"2020-08-15T15:00Z","v":49.6},{"t":"2020-08-16T07:00Z","v":59.4},{"t":"2020-08-16T17:00Z","v":63.3},{"t":"2020-08-17T06:00Z","v":68.3},{"t":"2020-08-17T16:00Z","v":75.0},{"t":"2020-08-17T23:00Z","v":80.5},{"t":"2020-08-18T10:00Z","v":81.8},{"t":"2020-08-18T20:00Z","v":80.5},{"t":"2020-08-19T09:00Z","v":76.4},{"t":"2020-08-19T21:00Z","v":71.8},{"t":"2020-08-20T09:00Z","v":66.6},{"t":"2020-08-20T21:00Z","v":62.0},{"t":"2020-08-21T12:00Z","v":56.1},{"t":"2020-08-21T22:00Z","v":47.6},{"t":"2020-08-22T06:00Z","v":41.1},{"t":"2020-08-22T16:00Z","v":34.5},{"t":"2020-08-23T04:00Z","v":28.6},{"t":"2020-08-23T17:00Z","v":24.7},{"t":"2020-08-24T05:00Z","v":22.5},{"t":"2020-08-24T17:00Z","v":21.7},{"t":"2020-08-25T07:00Z","v":20.1},{"t":"2020-08-25T20:00Z","v":17.5},{"t":"2020-08-26T04:00Z","v":17.8},{"t":"2020-08-26T20:00Z","v":18.6},{"t":"2020-08-27T12:00Z","v":18.6},{"t":"2020-08-28T13:00Z","v":18.2},{"t":"2020-08-29T01:00Z","v":19.6},{"t":"2020-08-29T13:00Z","v":22.1},{"t":"2020-08-29T22:00Z","v":25.4},{"t":"2020-08-30T10:00Z","v":31.3},{"t":"2020-08-30T22:00Z","v":37.1},{"t":"2020-08-31T10:00Z","v":43.0},{"t":"2020-09-01T01:00Z","v":50.9},{"t":"2020-09-01T15:00Z","v":60.0},{"t":"2020-09-02T07:00Z","v":71.8},{"t":"2020-09-03T00:00Z","v":69.8},{"t":"2020-09-03T11:00Z","v":65.5},{"t":"2020-09-03T19:00Z","v":60.7},{"t":"2020-09-04T07:00Z","v":52.2},{"t":"2020-09-04T20:00Z","v":46.9},{"t":"2020-09-05T06:00Z","v":43.0},{"t":"2020-09-05T16:00Z","v":35.8},{"t":"2020-09-06T02:00Z","v":28.0},{"t":"2020-09-06T10:00Z","v":20.8},{"t":"2020-09-06T21:00Z","v":18.2},{"t":"2020-09-07T13:00Z","v":14.9},{"t":"2020-09-08T05:00Z","v":14.7},{"t":"2020-09-08T22:00Z","v":11.7},{"t":"2020-09-09T12:00Z","v":10.3},{"t":"2020-09-10T02:00Z","v":11.7},{"t":"2020-09-10T19:00Z","v":13.6},{"t":"2020-09-11T07:00Z","v":13.9},{"t":"2020-09-11T19:00Z","v":16.2},{"t":"2020-09-12T15:00Z","v":19.5},{"t":"2020-09-13T10:00Z","v":26.7},{"t":"2020-09-13T16:00Z","v":28.6},{"t":"2020-09-14T12:00Z","v":36.5},{"t":"2020-09-15T09:00Z","v":47.6},{"t":"2020-09-15T21:00Z","v":53.5},{"t":"2020-09-16T05:00Z","v":54.1},{"t":"2020-09-17T02:00Z","v":61.3},{"t":"2020-09-17T12:00Z","v":60.9},{"t":"2020-09-17T22:00Z","v":63.5},{"t":"2020-09-18T12:00Z","v":67.2},{"t":"2020-09-18T22:00Z","v":66.9},{"t":"2020-09-19T11:00Z","v":66.2},{"t":"2020-09-19T23:00Z","v":66.5},{"t":"2020-09-20T09:00Z","v":68.8},{"t":"2020-09-20T23:00Z","v":67.5},{"t":"2020-09-21T12:00Z","v":63.9},{"t":"2020-09-22T04:00Z","v":52.8},{"t":"2020-09-22T16:00Z","v":42.4},{"t":"2020-09-23T13:00Z","v":31.3},{"t":"2020-09-24T11:00Z","v":17.3},{"t":"2020-09-25T01:00Z","v":16.5},{"t":"2020-09-25T10:00Z","v":16.2},{"t":"2020-09-25T14:00Z","v":18.2},{"t":"2020-09-26T06:00Z","v":26.0},{"t":"2020-09-27T06:00Z","v":38.4},{"t":"2020-09-27T19:00Z","v":43.7},{"t":"2020-09-28T15:00Z","v":58.1},{"t":"2020-09-29T11:00Z","v":69.2},{"t":"2020-09-30T03:00Z","v":71.1},{"t":"2020-09-30T18:00Z","v":73.1},{"t":"2020-10-01T11:00Z","v":74.4},{"t":"2020-10-01T23:00Z","v":76.4},{"t":"2020-10-02T11:00Z","v":73.7},{"t":"2020-10-02T23:00Z","v":67.9},{"t":"2020-10-03T12:00Z","v":63.3},{"t":"2020-10-04T00:00Z","v":57.4},{"t":"2020-10-04T12:00Z","v":51.8},{"t":"2020-10-05T00:00Z","v":51.8},{"t":"2020-10-05T13:00Z","v":51.5},{"t":"2020-10-05T21:00Z","v":52.2},{"t":"2020-10-06T05:00Z","v":55.7},{"t":"2020-10-06T17:00Z","v":60.7},{"t":"2020-10-07T01:00Z","v":60.9},{"t":"2020-10-07T14:00Z","v":63.3},{"t":"2020-10-08T02:00Z","v":66.6},{"t":"2020-10-08T10:00Z","v":67.9},{"t":"2020-10-08T18:00Z","v":69.2},{"t":"2020-10-09T00:00Z","v":69.2},{"t":"2020-10-09T08:00Z","v":68.0}
],
"stochD":[
{"t":"2020-08-08T00:00Z","v":78.7},{"t":"2020-08-08T11:00Z","v":77.7},{"t":"2020-08-09T00:00Z","v":75.7},{"t":"2020-08-09T16:00Z","v":72.7},{"t":"2020-08-10T08:00Z","v":69.8},{"t":"2020-08-10T20:00Z","v":67.5},{"t":"2020-08-11T19:00Z","v":62.0},{"t":"2020-08-12T09:00Z","v":57.4},{"t":"2020-08-13T02:00Z","v":52.2},{"t":"2020-08-13T18:00Z","v":47.6},{"t":"2020-08-14T06:00Z","v":44.3},{"t":"2020-08-14T18:00Z","v":43.0},{"t":"2020-08-15T07:00Z","v":43.4},{"t":"2020-08-15T19:00Z","v":46.3},{"t":"2020-08-16T11:00Z","v":51.5},{"t":"2020-08-16T23:00Z","v":56.8},{"t":"2020-08-17T16:00Z","v":64.6},{"t":"2020-08-18T06:00Z","v":73.1},{"t":"2020-08-18T20:00Z","v":78.3},{"t":"2020-08-19T09:00Z","v":79.6},{"t":"2020-08-19T21:00Z","v":77.7},{"t":"2020-08-20T09:00Z","v":74.4},{"t":"2020-08-20T23:00Z","v":68.5},{"t":"2020-08-21T14:00Z","v":62.6},{"t":"2020-08-22T00:00Z","v":57.4},{"t":"2020-08-22T14:00Z","v":47.6},{"t":"2020-08-23T02:00Z","v":39.8},{"t":"2020-08-23T15:00Z","v":32.6},{"t":"2020-08-24T03:00Z","v":27.7},{"t":"2020-08-24T19:00Z","v":23.4},{"t":"2020-08-25T12:00Z","v":21.2},{"t":"2020-08-26T04:00Z","v":19.1},{"t":"2020-08-26T16:00Z","v":18.4},{"t":"2020-08-27T12:00Z","v":18.4},{"t":"2020-08-28T17:00Z","v":18.4},{"t":"2020-08-29T07:00Z","v":19.1},{"t":"2020-08-29T22:00Z","v":20.8},{"t":"2020-08-30T14:00Z","v":26.0},{"t":"2020-08-31T06:00Z","v":33.9},{"t":"2020-08-31T23:00Z","v":43.0},{"t":"2020-09-01T15:00Z","v":51.5},{"t":"2020-09-02T07:00Z","v":61.3},{"t":"2020-09-02T20:00Z","v":67.2},{"t":"2020-09-03T04:00Z","v":69.2},{"t":"2020-09-03T11:00Z","v":69.2},{"t":"2020-09-03T19:00Z","v":68.3},{"t":"2020-09-04T11:00Z","v":60.7},{"t":"2020-09-05T04:00Z","v":51.5},{"t":"2020-09-06T00:00Z","v":39.8},{"t":"2020-09-06T21:00Z","v":26.7},{"t":"2020-09-07T13:00Z","v":19.1},{"t":"2020-09-08T05:00Z","v":16.2},{"t":"2020-09-09T06:00Z","v":13.2},{"t":"2020-09-09T22:00Z","v":11.7},{"t":"2020-09-10T19:00Z","v":11.7},{"t":"2020-09-11T11:00Z","v":13.0},{"t":"2020-09-12T07:00Z","v":15.2},{"t":"2020-09-13T00:00Z","v":17.5},{"t":"2020-09-13T16:00Z","v":21.5},{"t":"2020-09-14T12:00Z","v":28.6},{"t":"2020-09-15T09:00Z","v":37.8},{"t":"2020-09-16T01:00Z","v":46.5},{"t":"2020-09-16T21:00Z","v":55.2},{"t":"2020-09-17T10:00Z","v":57.8},{"t":"2020-09-18T02:00Z","v":61.3},{"t":"2020-09-18T22:00Z","v":64.6},{"t":"2020-09-19T19:00Z","v":66.6},{"t":"2020-09-20T15:00Z","v":67.2},{"t":"2020-09-21T12:00Z","v":67.2},{"t":"2020-09-22T00:00Z","v":63.9},{"t":"2020-09-22T16:00Z","v":55.4},{"t":"2020-09-23T09:00Z","v":45.0},{"t":"2020-09-24T01:00Z","v":34.5},{"t":"2020-09-24T17:00Z","v":25.1},{"t":"2020-09-25T10:00Z","v":18.8},{"t":"2020-09-25T22:00Z","v":17.8},{"t":"2020-09-26T08:00Z","v":19.5},{"t":"2020-09-26T22:00Z","v":24.1},{"t":"2020-09-27T19:00Z","v":33.2},{"t":"2020-09-28T15:00Z","v":43.7},{"t":"2020-09-29T11:00Z","v":56.1},{"t":"2020-09-30T03:00Z","v":65.9},{"t":"2020-09-30T12:00Z","v":69.2},{"t":"2020-10-01T02:00Z","v":71.8},{"t":"2020-10-01T19:00Z","v":73.7},{"t":"2020-10-02T09:00Z","v":74.8},{"t":"2020-10-02T19:00Z","v":74.4},{"t":"2020-10-03T12:00Z","v":69.2},{"t":"2020-10-04T02:00Z","v":63.3},{"t":"2020-10-04T20:00Z","v":55.7},{"t":"2020-10-05T13:00Z","v":52.2},{"t":"2020-10-05T23:00Z","v":52.2},{"t":"2020-10-06T09:00Z","v":52.8},{"t":"2020-10-06T21:00Z","v":55.2},{"t":"2020-10-07T14:00Z","v":59.4},{"t":"2020-10-08T06:00Z","v":63.3},{"t":"2020-10-08T18:00Z","v":65.2},{"t":"2020-10-09T08:00Z","v":68.0}
]
},
"vconcat":[
{
"width":1854,"height":578,
"encoding":{
"x":{"field":"t","type":"temporal","scale":{"type":"utc","domain":["2020-08-07T23:06Z","2020-10-24T05:06Z"]},"axis":null},
"y":{"field":"p","type":"quantitative","scale":{"domain":[0.21585,0.3334],"zero":false,"nice":false},"axis":{"orient":"right","values":[0.22,0.23,0.24,0.26,0.27,0.28,0.29,0.30,0.31,0.32,0.33],"format":".4f","tickSize":4,"labelPadding":4,"labelFlush":false,"labelBound":false,"labelOverlap":false}}
},
"layer":[
{"data":{"values":[{"t":"2020-09-01T01:06Z","t2":"2020-10-02T09:06Z","p":0.32241,"p2":0.23065}]},
 "mark":{"type":"rect","fill":"#E8EDF5","cornerRadiusTopRight":140,"cornerRadiusBottomRight":160,"clip":true},
 "encoding":{"x2":{"field":"t2"},"y2":{"field":"p2"}}},
{"data":{"values":[{"t":"2020-09-07T08:06Z","t2":"2020-09-26T04:06Z","p":0.2921,"p2":0.26138},{"t":"2020-09-07T08:06Z","t2":"2020-09-13T14:06Z","p":0.26138,"p2":0.2300}]},
 "mark":{"type":"rect","fill":"#ffffff","clip":true},
 "encoding":{"x2":{"field":"t2"},"y2":{"field":"p2"}}},
{"data":{"values":[{"t":"2020-09-01T01:06Z","t2":"2020-09-07T08:06Z","p":0.32241,"p2":0.20}]},
 "mark":{"type":"rect","fill":"#E8EDF5","clip":true},
 "encoding":{"x2":{"field":"t2"},"y2":{"field":"p2"}}},
{"mark":{"type":"rule","color":"#C0C0C0","strokeWidth":1},"encoding":{"y":{"datum":0.2496},"x":null}},
{"mark":{"type":"rule","color":"#FF0000","strokeWidth":1},"encoding":{"y":{"datum":0.2515},"x":null}},
{"mark":{"type":"rule","color":"#FF0000","strokeWidth":1},"encoding":{"y":{"datum":0.2581},"x":null}},
{"mark":{"type":"rule","color":"#FF0000","strokeWidth":1},"encoding":{"y":{"datum":0.2310},"x":null}},
{"data":{"values":[{"t":"2020-08-07T23:06Z","p":0.2856},{"t":"2020-10-24T05:06Z","p":0.3232}]},
 "mark":{"type":"line","color":"#0000FF","strokeWidth":1,"clip":true},"encoding":{}},
{"data":{"values":[{"t":"2020-08-07T23:06Z","p":0.1894},{"t":"2020-10-24T05:06Z","p":0.2269}]},
 "mark":{"type":"line","color":"#0000FF","strokeWidth":1,"clip":true},"encoding":{}},
{"data":{"name":"candles"},
 "mark":{"type":"rule","strokeWidth":1,"clip":true},
 "encoding":{"y":{"field":"l"},"y2":{"field":"h"},"color":{"condition":{"test":"datum.o == datum.c","value":"#000000"},"value":"#0000FF"}}},
{"data":{"name":"candles"},
 "mark":{"type":"bar","size":3,"strokeWidth":1,"clip":true},
 "encoding":{"y":{"field":"o"},"y2":{"field":"c"},
  "fill":{"condition":[{"test":"datum.c > datum.o","value":"#3CB371"},{"test":"datum.c < datum.o","value":"#FF0000"}],"value":"#000000"},
  "stroke":{"condition":{"test":"datum.o == datum.c","value":"#000000"},"value":"#0000FF"}}},
{"data":{"values":[{"t":"2020-10-10T07:00Z","p":0.2486},{"t":"2020-10-11T22:00Z","p":0.2395},{"t":"2020-10-15T07:00Z","p":0.2568}]},
 "mark":{"type":"line","color":"#FF0000","strokeWidth":3,"strokeJoin":"miter"},"encoding":{}},
{"data":{"values":[{"t":"2020-10-11T17:18Z","p":0.2405,"a":139},{"t":"2020-10-15T02:36Z","p":0.2557,"a":44}]},
 "mark":{"type":"point","shape":"triangle-up","filled":true,"color":"#FF0000","size":260,"opacity":1},
 "encoding":{"angle":{"field":"a","type":"quantitative","scale":null}}},
{"data":{"values":[{"t":"2020-10-24T05:06Z","p":0.2581,"s":"61.8"},{"t":"2020-10-24T05:06Z","p":0.2310,"s":"50.0"}]},
 "mark":{"type":"text","align":"right","baseline":"bottom","dx":0,"dy":-1,"fontSize":11,"color":"#FF0000","font":"DejaVu Sans"},
 "encoding":{"text":{"field":"s"}}},
{"data":{"values":[{"t":"2020-10-24T10:06Z","t2":"2020-10-26T11:06Z","p":0.2528,"p2":0.2502}]},
 "mark":{"type":"rect","fill":"#FF0000"},"encoding":{"x2":{"field":"t2"},"y2":{"field":"p2"}}},
{"data":{"values":[{"t":"2020-10-24T14:06Z","p":0.2515,"s":"0.2515"}]},
 "mark":{"type":"text","align":"left","baseline":"middle","fontSize":11,"color":"#FFFFFF","font":"DejaVu Sans"},"encoding":{"text":{"field":"s"}}},
{"data":{"values":[{"t":"2020-10-24T10:06Z","t2":"2020-10-26T11:06Z","p":0.2510,"p2":0.2483}]},
 "mark":{"type":"rect","fill":"#000000"},"encoding":{"x2":{"field":"t2"},"y2":{"field":"p2"}}},
{"data":{"values":[{"t":"2020-10-24T14:06Z","p":0.2496,"s":"0.2496"}]},
 "mark":{"type":"text","align":"left","baseline":"middle","fontSize":11,"color":"#FFFFFF","font":"DejaVu Sans"},"encoding":{"text":{"field":"s"}}},
{"data":{"values":[{"t":"2020-08-08T07:06Z","p":0.33130}]},
 "mark":{"type":"point","shape":"triangle-down","filled":true,"color":"#000000","size":55,"opacity":1},"encoding":{}},
{"data":{"values":[{"t":"2020-08-08T17:06Z","p":0.33122,"s":"XRPUSD,H4  0.2505 0.2509 0.2491 0.2496"}]},
 "mark":{"type":"text","align":"left","baseline":"middle","fontSize":11,"color":"#000000","font":"DejaVu Sans"},"encoding":{"text":{"field":"s"}}}
]
},
{
"width":1854,"height":255,
"encoding":{
"x":{"field":"t","type":"temporal","scale":{"type":"utc","domain":["2020-08-07T23:06Z","2020-10-24T05:06Z"]},
 "axis":{"orient":"bottom","values":[{"year":2020,"month":8,"date":8,"utc":true},{"year":2020,"month":8,"date":12,"utc":true},{"year":2020,"month":8,"date":16,"utc":true},{"year":2020,"month":8,"date":20,"utc":true},{"year":2020,"month":8,"date":24,"utc":true},{"year":2020,"month":8,"date":28,"utc":true},{"year":2020,"month":9,"date":1,"utc":true},{"year":2020,"month":9,"date":5,"utc":true},{"year":2020,"month":9,"date":9,"utc":true},{"year":2020,"month":9,"date":13,"utc":true},{"year":2020,"month":9,"date":17,"utc":true},{"year":2020,"month":9,"date":21,"utc":true},{"year":2020,"month":9,"date":25,"utc":true},{"year":2020,"month":9,"date":29,"utc":true},{"year":2020,"month":10,"date":3,"utc":true},{"year":2020,"month":10,"date":7,"utc":true}],
 "labelExpr":"utcFormat(datum.value, '%-d %b') == '8 Aug' ? '8 Aug 2020' : utcFormat(datum.value, '%-d %b %H:%M')",
 "labelAlign":"left","labelBaseline":"top","labelPadding":2,"labelDx":0,"tickSize":4,"labelOverlap":false,"labelBound":false,"labelFlush":false}},
"y":{"field":"v","type":"quantitative","scale":{"domain":[0,100],"zero":false,"nice":false},"axis":{"orient":"right","values":[0,20,80,100],"tickSize":0,"labelPadding":7,"labelFlush":true,"labelOverlap":false}}
},
"layer":[
{"data":{"values":[{"t":"2020-09-01T01:06Z","t2":"2020-09-07T08:06Z","v":120,"v2":11.5}]},
 "mark":{"type":"rect","fill":"#E8EDF5","clip":true},"encoding":{"x2":{"field":"t2"},"y2":{"field":"v2"}}},
{"data":{"values":[{"t":"2020-09-13T14:06Z","v":70.7,"v2":11.5},{"t":"2020-09-26T03:06Z","v":70.7,"v2":11.5},{"t":"2020-09-29T06:06Z","v":11.5,"v2":11.5}]},
 "mark":{"type":"area","fill":"#E8EDF5","clip":true},"encoding":{"y2":{"field":"v2"}}},
{"mark":{"type":"rule","color":"#C0C0C0","strokeWidth":1,"strokeDash":[3,3]},"encoding":{"y":{"datum":80},"x":null}},
{"mark":{"type":"rule","color":"#C0C0C0","strokeWidth":1,"strokeDash":[3,3]},"encoding":{"y":{"datum":20},"x":null}},
{"data":{"name":"stochK"},"mark":{"type":"line","color":"#0000FF","strokeWidth":2,"clip":true},"encoding":{}},
{"data":{"name":"stochD"},"mark":{"type":"line","color":"#FF0000","strokeWidth":2,"clip":true},"encoding":{}},
{"data":{"values":[{"t":"2020-10-06T14:24Z","t2":"2020-10-11T13:48Z","v":79.6,"v2":59.6}]},
 "mark":{"type":"rect","fillOpacity":0,"stroke":"#FF0000","strokeWidth":4},"encoding":{"x2":{"field":"t2"},"y2":{"field":"v2"}}},
{"data":{"values":[{"t":"2020-08-08T04:06Z","v":95.8,"s":"Stoch(50,10,25) 67.9810 67.9560"}]},
 "mark":{"type":"text","align":"left","baseline":"middle","fontSize":11,"color":"#000000","font":"DejaVu Sans"},"encoding":{"text":{"field":"s"}}}
]
}
]
}
